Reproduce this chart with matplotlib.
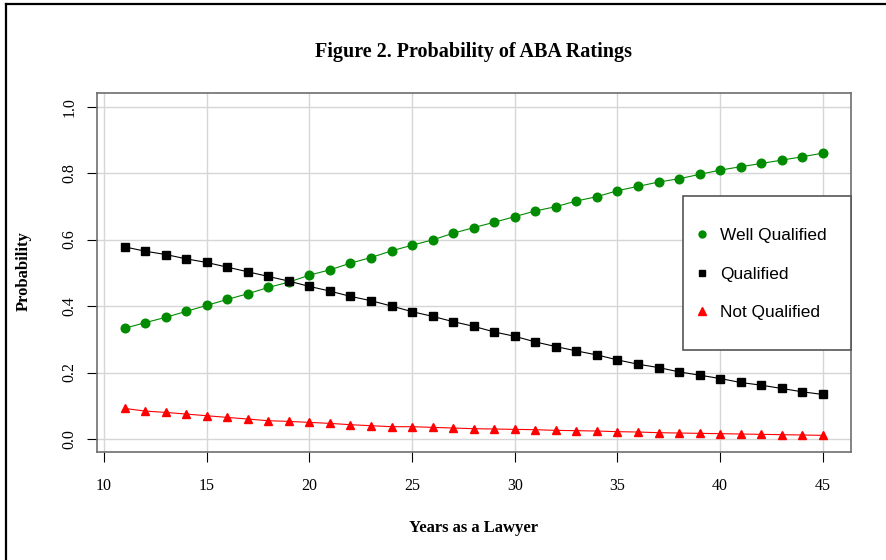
import matplotlib
matplotlib.use('Agg')
import matplotlib.pyplot as plt
from matplotlib.lines import Line2D
from matplotlib.patches import Rectangle

# years as a lawyer, 11..45
years = list(range(11, 46))

well_qualified = [0.333, 0.350, 0.366, 0.384, 0.402, 0.420, 0.437, 0.456, 0.472, 0.493,
                  0.509, 0.529, 0.546, 0.566, 0.583, 0.599, 0.619, 0.636, 0.652, 0.669,
                  0.686, 0.699, 0.716, 0.729, 0.747, 0.760, 0.773, 0.783, 0.796, 0.809,
                  0.819, 0.829, 0.839, 0.849, 0.860]

qualified = [0.578, 0.565, 0.555, 0.542, 0.531, 0.517, 0.503, 0.489, 0.475, 0.459,
             0.445, 0.429, 0.416, 0.400, 0.383, 0.369, 0.353, 0.339, 0.322, 0.309,
             0.292, 0.278, 0.265, 0.253, 0.238, 0.225, 0.215, 0.202, 0.192, 0.182,
             0.170, 0.162, 0.152, 0.142, 0.134]

not_qualified = [0.092, 0.084, 0.080, 0.075, 0.070, 0.065, 0.060, 0.055, 0.053, 0.050,
                 0.047, 0.043, 0.040, 0.037, 0.037, 0.035, 0.033, 0.031, 0.030, 0.029,
                 0.028, 0.026, 0.025, 0.024, 0.022, 0.021, 0.019, 0.018, 0.017, 0.016,
                 0.015, 0.014, 0.013, 0.012, 0.011]

x_ticks = [10, 15, 20, 25, 30, 35, 40, 45]
y_ticks = [0.0, 0.2, 0.4, 0.6, 0.8, 1.0]

SERIF = 'Liberation Serif'
SANS = 'Liberation Sans'
GREEN = '#008B00'

W, H = 886, 560
AX_L, AX_R, AX_T, AX_B = 96.7, 850.7, 93.3, 452.3

fig = plt.figure(figsize=(W / 100, H / 100), dpi=100)
ax = fig.add_axes([AX_L / W, 1 - AX_B / H, (AX_R - AX_L) / W, (AX_B - AX_T) / H])


def ax_x(px):
    return (px - AX_L) / (AX_R - AX_L)


def ax_y(py):
    return (AX_B - py) / (AX_B - AX_T)


# R style 4% padding
ax.set_xlim(11 - 0.04 * 34, 45 + 0.04 * 34)
ax.set_ylim(-0.04, 1.04)

ax.grid(True, color='#D6D6D6', linewidth=1.0)
ax.set_axisbelow(True)

ax.plot(years, well_qualified, color=GREEN, linewidth=0.8, marker='o', markersize=6.2,
        label='Well Qualified')
ax.plot(years, qualified, color='black', linewidth=0.8, marker='s', markersize=5.6,
        label='Qualified')
ax.plot(years, not_qualified, color='red', linewidth=0.8, marker='^', markersize=6.2,
        label='Not Qualified')

ax.set_xticks(x_ticks)
ax.set_xticklabels([str(t) for t in x_ticks], fontfamily=SERIF, fontsize=11.5)
ax.set_yticks(y_ticks)
ax.set_yticklabels([f'{t:.1f}' for t in y_ticks], fontfamily=SERIF, fontsize=11.5,
                   rotation=90, va='center')
ax.tick_params(axis='x', length=7.5, width=0.8, pad=11, color='black')
ax.tick_params(axis='y', length=7.5, width=0.8, pad=6.5, color='black')

for s in ax.spines.values():
    s.set_color('#6E6E6E')
    s.set_linewidth(1.2)

fig.text((AX_L + AX_R) / 2 / W, 1 - 52 / H, 'Figure 2. Probability of ABA Ratings',
         fontfamily=SERIF, fontweight='bold', fontsize=14.5, ha='center', va='center')
ax.set_xlabel('Years as a Lawyer', fontfamily=SERIF, fontweight='bold', fontsize=12)
ax.set_ylabel('Probability', fontfamily=SERIF, fontweight='bold', fontsize=12)
ax.xaxis.set_label_coords(0.5, ax_y(528))
ax.xaxis.label.set_va('center')
ax.yaxis.set_label_coords(ax_x(24), ax_y(271))
ax.yaxis.label.set_va('center')

# legend box (R style: square frame, flush with right axis edge)
ax.add_patch(Rectangle((ax_x(683), ax_y(350)), 1 - ax_x(683), ax_y(196) - ax_y(350),
                       transform=ax.transAxes, facecolor='white', edgecolor='#555555',
                       linewidth=1.2, zorder=4, clip_on=False))
handles = [
    Line2D([], [], linestyle='none', marker='o', color=GREEN, markersize=5),
    Line2D([], [], linestyle='none', marker='s', color='black', markersize=5),
    Line2D([], [], linestyle='none', marker='^', color='red', markersize=5.5),
]
leg = ax.legend(handles, ['Well Qualified', 'Qualified', 'Not Qualified'],
                loc='center left', bbox_to_anchor=(ax_x(697.7), ax_y(274)),
                borderaxespad=0, borderpad=0, frameon=False,
                prop={'family': SANS, 'size': 12.4},
                labelspacing=1.38, handlelength=0.5, handletextpad=0.8)
leg.set_zorder(5)

# outer frame (left and top edges visible)
fig.add_artist(Line2D([6 / W, 6 / W], [0, 1 - 4 / H], transform=fig.transFigure,
                      color='black', linewidth=1.6))
fig.add_artist(Line2D([6 / W, 1], [1 - 4 / H, 1 - 4 / H], transform=fig.transFigure,
                      color='black', linewidth=1.6))

fig.savefig('out.png', dpi=100)
